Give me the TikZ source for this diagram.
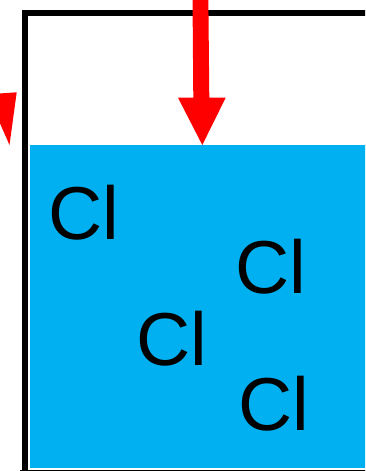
\documentclass[tikz,border=0pt]{standalone}
\usepackage{fontspec}
\setmainfont{Liberation Sans}
\definecolor{water}{HTML}{00B0F0}
\definecolor{arrowred}{HTML}{FF0000}
\begin{document}
\begin{tikzpicture}[x=1pt,y=-1pt,
  ion/.style={anchor=base west,inner sep=0pt,font=\fontsize{75}{75}\selectfont}]
\useasboundingbox (0,0) rectangle (365,471);
\clip (0,0) rectangle (365,471);
% beaker wall
\draw[line width=6pt] (25,475) -- (25,13) -- (380,13);
\draw[line width=6pt] (20,472.7) -- (380,472.7);
% liquid
\fill[water] (30,145) rectangle (370,467.7);
% chloride ions
\node[ion] (cl1) at (48,239) {Cl};
\node[ion] (cl2) at (235.6,293.3) {Cl};
\node[ion] (cl3) at (136.3,365.7) {Cl};
\node[ion] (cl4) at (238,430.7) {Cl};
% arrow entering from above
\fill[arrowred] (192.5,-5) -- (208.3,-5) -- (209.3,97.7) -- (225.7,97.7)
  -- (202.3,145) -- (178,97.7) -- (193.3,97.7) -- cycle;
% arrow head at the left edge
\fill[arrowred] (-5,93.8) -- (16.7,92.3) -- (9.5,145) -- (-5,112) -- cycle;
\end{tikzpicture}
\end{document}
